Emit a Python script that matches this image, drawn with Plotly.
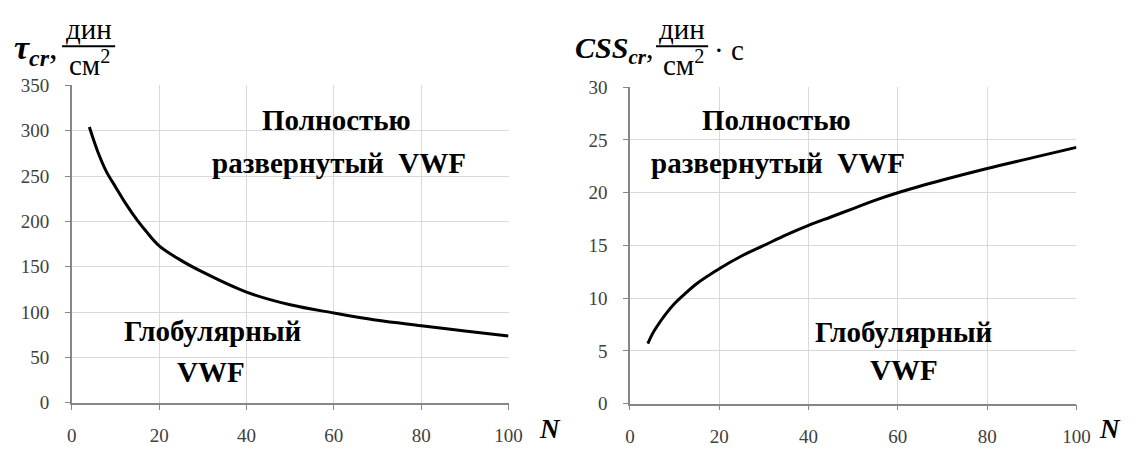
import plotly.graph_objects as go

# ---- data ----
n_tau = [4, 6, 8, 10, 12, 15, 17, 20, 25, 30, 40, 50, 60, 70, 80, 90, 100]
tau_cr = [304, 276, 254, 238, 222, 201, 189, 173, 157, 144, 122, 108, 99, 91, 85, 79, 73.5]

n_css = [4, 5, 6, 8, 10, 12, 15, 20, 25, 30, 35, 40, 45, 50, 55, 60, 70, 80, 90, 100]
css_cr = [5.7, 6.6, 7.3, 8.5, 9.5, 10.3, 11.4, 12.8, 14.0, 15.0, 16.0, 16.9, 17.7, 18.5, 19.3, 20.0, 21.2, 22.3, 23.3, 24.3]

x_ticks = [0, 20, 40, 60, 80, 100]
y1_ticks = [0, 50, 100, 150, 200, 250, 300, 350]
y2_ticks = [0, 5, 10, 15, 20, 25, 30]

W, H = 1146, 450
SERIF = "Liberation Serif"

fig = go.Figure()
fig.add_trace(go.Scatter(x=n_tau, y=tau_cr, mode="lines", line=dict(color="black", width=3, shape="spline", smoothing=1.0),
                         xaxis="x", yaxis="y", showlegend=False, hoverinfo="skip"))
fig.add_trace(go.Scatter(x=n_css, y=css_cr, mode="lines", line=dict(color="black", width=3, shape="spline", smoothing=1.0),
                         xaxis="x2", yaxis="y2", showlegend=False, hoverinfo="skip"))

def px_x(p):
    return p / W

def px_y(p):
    return 1 - p / H

tick_font = dict(family=SERIF, size=19, color="#404040")
common = dict(showgrid=True, gridcolor="#d9d9d9", gridwidth=1, showline=True, linecolor="#868686",
              linewidth=1.5, ticks="outside", ticklen=5, tickcolor="#868686", tickfont=tick_font,
              zeroline=False, fixedrange=True)

fig.update_layout(
    width=W, height=H, margin=dict(l=0, r=0, t=0, b=0),
    paper_bgcolor="white", plot_bgcolor="white",
    font=dict(family=SERIF),
    xaxis=dict(domain=[px_x(68), px_x(512)], range=[0, 100], tickvals=x_ticks, anchor="y",
               ticklabelstandoff=10, **common),
    yaxis=dict(domain=[px_y(412), px_y(79)], range=[0, 350], tickvals=y1_ticks, anchor="x",
               ticklabelstandoff=12, **common),
    xaxis2=dict(domain=[px_x(635.5), px_x(1089.5)], range=[0, 100], tickvals=x_ticks, anchor="y2",
                ticklabelstandoff=10, **common),
    yaxis2=dict(domain=[px_y(413), px_y(81)], range=[0, 30], tickvals=y2_ticks, anchor="x2",
                ticklabelstandoff=12, **common),
)

def label(text, x, y, size=29, anchor="center"):
    fig.add_annotation(text=text, xref="paper", yref="paper", x=px_x(x), y=px_y(y),
                       xanchor=anchor, yanchor="middle", showarrow=False,
                       font=dict(family=SERIF, size=size, color="black"))

# annotations inside plots
label("<b>Полностью</b>", 337, 115)
label("<b>развернутый  VWF</b>", 208, 160, anchor="left")
label("<b>Глобулярный</b>", 211, 337)
label("<b>VWF</b>", 209, 380)
label("<b>Полностью</b>", 784, 115)
label("<b>развернутый  VWF</b>", 655, 160, anchor="left")
label("<b>Глобулярный</b>", 914, 338)
label("<b>VWF</b>", 914, 378)

# N axis labels
label("<b><i>N</i></b>", 554, 440, 27)
label("<b><i>N</i></b>", 1124, 440, 27)

# titles
def tfrac(left_x, width):
    xc = left_x + width / 2
    label("дин", xc, 20, 29)
    fig.add_shape(type="line", xref="paper", yref="paper", x0=px_x(left_x), x1=px_x(left_x + width),
                  y0=px_y(38), y1=px_y(38), line=dict(color="black", width=2))
    label("см<sup>2</sup>", xc + 1, 56, 29)

fig.add_annotation(text="<b><i>τ</i></b><sub><b><i>cr</i></b></sub>,", xref="paper", yref="paper",
                   x=px_x(7), y=px_y(42), xanchor="left", yanchor="middle", showarrow=False,
                   font=dict(family=SERIF, size=34, color="black"))
tfrac(58, 54)

fig.add_annotation(text="<b><i>CSS</i></b><sub><b><i>cr</i></b></sub>,", xref="paper", yref="paper",
                   x=px_x(578), y=px_y(42), xanchor="left", yanchor="middle", showarrow=False,
                   font=dict(family=SERIF, size=30, color="black"))
tfrac(662, 53)
label("· с", 736, 42, 29)

fig.write_html("out.html")
